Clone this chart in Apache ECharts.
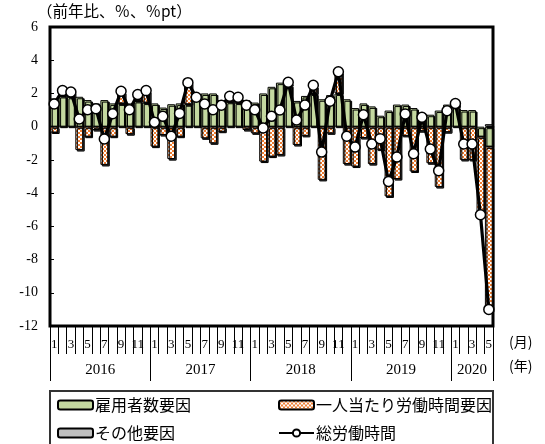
<!DOCTYPE html>
<html>
<head>
<meta charset="utf-8">
<script src="https://cdn.jsdelivr.net/npm/echarts@6/dist/echarts.min.js"></script>
<style>
  html, body { margin: 0; padding: 0; background: #fff; }
  #chart { width: 545px; height: 444px; }
</style>
</head>
<body>
<div id="chart"></div>
<script>
// 年と各年の月数（2020年は5月まで）
const years = ["2016", "2017", "2018", "2019", "2020"];
const monthsInYear = [12, 12, 12, 12, 5];

// 雇用者数要因
const employment = [
  1.7, 1.85, 1.8, 1.8, 1.6, 1.4, 1.6, 1.4, 1.4, 1.4, 1.55, 1.45,
  1.4, 1.15, 1.35, 1.4, 1.35, 1.75, 2.0, 2.0, 1.6, 1.5, 1.45, 1.6,
  1.45, 2.0, 2.4, 2.65, 2.5, 1.55, 1.85, 2.0, 1.65, 1.9, 2.0, 1.65,
  1.12, 1.4, 1.22, 0.66, 0.97, 1.33, 1.33, 1.12, 0.82, 0.72, 0.97, 1.33,
  1.2, 1.0, 1.0, -0.6, -1.2
];
// 一人当たり労働時間要因
const hours = [
  -0.35, 0.3, 0.3, -1.4, -0.6, -0.2, -2.3, -0.6, 0.7, -0.45, 0.35, 0.7,
  -1.2, -0.5, -1.95, -0.6, 1.3, 0.05, -0.7, -1.0, -0.3, 0.3, 0.3, -0.2,
  -0.4, -2.1, -1.8, -1.7, 0.15, -1.1, -0.55, 0.45, -3.2, -0.4, 1.3, -2.25,
  -2.4, -0.68, -2.25, -1.38, -4.2, -3.15, -0.55, -2.7, -0.27, -2.2, -3.63, -0.33,
  0.2, -2.0, -2.0, -4.7, -9.9
];
// その他要因（ほとんど見えない）
const other = [
  null, null, null, null, null, null, null, null, null, null, null, null,
  null, null, null, null, null, null, null, null, null, null, null, null,
  null, null, null, null, null, null, null, null, null, null, null, null,
  null, null, null, null, null, null, null, null, null, null, null, null,
  null, null, null, null, 0.15
];
// 総労働時間
const total = [
  1.37, 2.17, 2.09, 0.46, 1.02, 1.08, -0.74, 0.78, 2.13, 1.02, 1.93, 2.17,
  0.26, 0.62, -0.58, 0.8, 2.65, 1.77, 1.37, 1.02, 1.29, 1.83, 1.77, 1.29,
  1.02, -0.08, 0.62, 1.0, 2.67, 0.4, 1.3, 2.49, -1.53, 1.53, 3.3, -0.58,
  -1.23, 0.72, -1.04, -0.72, -3.3, -1.83, 0.77, -1.63, 0.56, -1.35, -2.65, 0.96,
  1.39, -1.04, -1.04, -5.3, -11.0
];

const categories = [];
years.forEach((y, k) => {
  for (let m = 1; m <= monthsInYear[k]; m++) categories.push(y + "/" + m);
});

// 年ラベルを置く位置（年の中央）
const yearLabelAt = {};
let start = 0;
years.forEach((y, k) => {
  const n = monthsInYear[k];
  yearLabelAt[start + Math.floor(n / 2) - (n % 2 === 0 ? 1 : 0)] = { text: y, even: n % 2 === 0 };
  start += n;
});

const numFont = "Liberation Serif";
const jpFont = "Noto Sans CJK JP";

function hatch() {
  const c = document.createElement("canvas");
  c.width = 4; c.height = 4;
  const g = c.getContext("2d");
  g.fillStyle = "#EE7E33";
  g.fillRect(0, 0, 4, 4);
  g.fillStyle = "#ffffff";
  g.fillRect(0, 0, 2, 2);
  g.fillRect(2, 2, 2, 2);
  return c;
}

const barStyle = {
  borderColor: "#000",
  borderWidth: 1,
  shadowColor: "#000",
  shadowOffsetX: 1.5,
  shadowOffsetY: 1.5,
  shadowBlur: 0
};

const chart = echarts.init(document.getElementById("chart"));

chart.setOption({
  animation: false,
  grid: {
    left: 50, right: 52, top: 27, bottom: 118,
    show: true, borderColor: "#000", borderWidth: 3, backgroundColor: "transparent"
  },
  xAxis: [
    {
      type: "category",
      data: categories,
      position: "bottom",
      axisLine: { show: false, onZero: false },
      axisTick: { show: true, interval: 0, length: 28, lineStyle: { color: "#000", width: 1 } },
      axisLabel: {
        interval: 0,
        margin: 12,
        fontFamily: numFont,
        fontSize: 13,
        color: "#000",
        formatter: (v) => {
          const m = +v.split("/")[1];
          return m % 2 === 1 ? String(m) : "";
        }
      }
    },
    {
      type: "category",
      data: categories,
      position: "bottom",
      offset: 28,
      axisLine: { show: false, onZero: false },
      axisTick: {
        show: true,
        interval: (i) => {
          let s = 0;
          for (let k = 0; k < monthsInYear.length; k++) {
            if (i === s) return true;
            s += monthsInYear[k];
          }
          return false;
        },
        length: 27,
        lineStyle: { color: "#000", width: 1 }
      },
      axisLabel: {
        interval: 0,
        margin: 9,
        color: "#000",
        formatter: (v, i) => {
          const it = yearLabelAt[i];
          if (!it) return "";
          return it.even ? "{s|" + it.text + "}" : "{n|" + it.text + "}";
        },
        rich: {
          s: { fontFamily: numFont, fontSize: 15, color: "#000", padding: [0, 0, 0, 8.4] },
          n: { fontFamily: numFont, fontSize: 15, color: "#000" }
        }
      }
    }
  ],
  yAxis: {
    type: "value",
    min: -12,
    max: 6,
    interval: 2,
    axisLine: { show: false, onZero: false },
    axisTick: { show: true, inside: true, length: 4, lineStyle: { color: "#000" } },
    splitLine: { show: false },
    axisLabel: { margin: 12, fontFamily: numFont, fontSize: 14, color: "#000" }
  },
  legend: [
    { data: ["雇用者数要因"], left: 57, top: 397 },
    { data: ["一人当たり労働時間要因"], left: 278, top: 397 },
    { data: ["その他要因"], left: 57, top: 425 },
    { data: ["総労働時間"], left: 278, top: 425 }
  ].map(l => Object.assign(l, {
    padding: 0,
    itemWidth: 35,
    itemHeight: 9,
    itemGap: 4,
    textStyle: { fontFamily: jpFont, fontSize: 16, color: "#000", padding: [0, 0, 0, -3] }
  })),
  graphic: [
    {
      type: "rect",
      shape: { x: 50, y: 391, width: 443, height: 62 },
      style: { fill: "none", stroke: "#333", lineWidth: 2 }
    },
    {
      type: "text",
      left: 37, top: 3,
      style: { text: "（前年比、％、％pt）", font: "15.5px 'Noto Sans CJK JP'", fill: "#000" }
    },
    {
      type: "text",
      left: 509, top: 335,
      style: { text: "(月)", font: "14px 'Noto Sans CJK JP'", fill: "#000" }
    },
    {
      type: "text",
      left: 509, top: 359,
      style: { text: "(年)", font: "14px 'Noto Sans CJK JP'", fill: "#000" }
    }
  ],
  series: [
    {
      name: "雇用者数要因",
      type: "bar",
      stack: "f",
      barCategoryGap: "6%",
      data: employment,
      itemStyle: Object.assign({ color: "#C4D9A0" }, barStyle)
    },
    {
      name: "一人当たり労働時間要因",
      type: "bar",
      stack: "f",
      barCategoryGap: "6%",
      data: hours,
      itemStyle: Object.assign({ color: { image: hatch(), repeat: "repeat" } }, barStyle)
    },
    {
      name: "その他要因",
      type: "bar",
      stack: "f",
      barCategoryGap: "6%",
      data: other,
      itemStyle: Object.assign({ color: "#BFBFBF" }, barStyle)
    },
    {
      name: "総労働時間",
      type: "line",
      data: total,
      z: 5,
      symbol: "circle",
      symbolSize: 10,
      lineStyle: { color: "#000", width: 3.2 },
      itemStyle: { color: "#fff", borderColor: "#000", borderWidth: 1.5 }
    }
  ]
});
</script>
</body>
</html>
